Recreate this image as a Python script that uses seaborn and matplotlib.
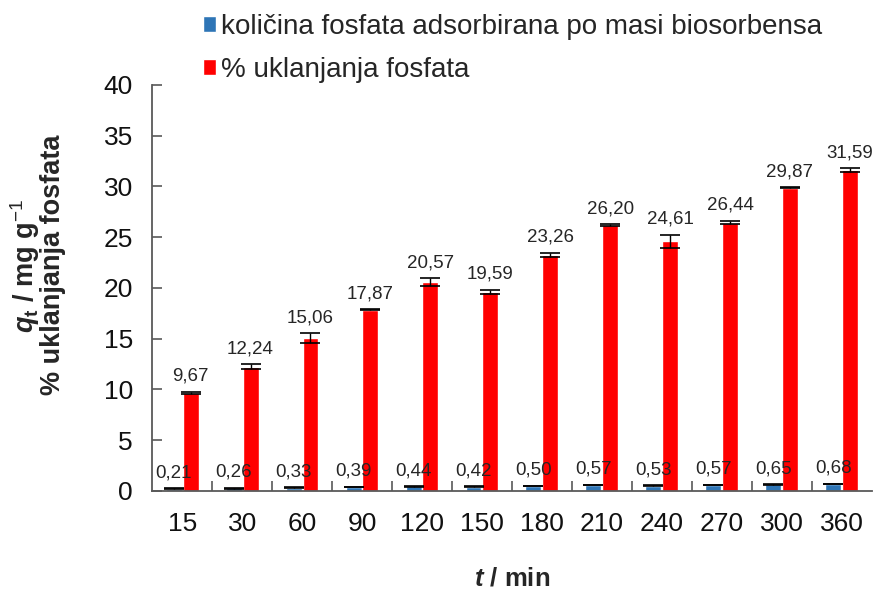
import numpy as np
import pandas as pd
import matplotlib.pyplot as plt
import seaborn as sns

# Podaci očitani s grafa
vrijeme = ['15', '30', '60', '90', '120', '150', '180', '210', '240', '270', '300', '360']
qt = [0.21, 0.26, 0.33, 0.39, 0.44, 0.42, 0.50, 0.57, 0.53, 0.57, 0.65, 0.68]
qt_err = [0.03, 0.03, 0.03, 0.03, 0.03, 0.03, 0.03, 0.03, 0.03, 0.03, 0.03, 0.03]
uklanjanje = [9.67, 12.24, 15.06, 17.87, 20.57, 19.59, 23.26, 26.20, 24.61, 26.44, 29.87, 31.59]
uklanjanje_err = [0.08, 0.25, 0.45, 0.05, 0.40, 0.22, 0.22, 0.05, 0.65, 0.18, 0.05, 0.20]

serije = ['količina fosfata adsorbirana po masi biosorbensa', '% uklanjanja fosfata']
boje = ['#2E75B6', '#FF0000']

df = pd.DataFrame({
    't': vrijeme * 2,
    'vrijednost': qt + uklanjanje,
    'serija': [serije[0]] * len(vrijeme) + [serije[1]] * len(vrijeme),
})

sns.set_style('white')
plt.rcParams['font.family'] = ['Liberation Sans', 'DejaVu Sans']
plt.rcParams['mathtext.fontset'] = 'custom'
plt.rcParams['mathtext.rm'] = 'Liberation Sans'
plt.rcParams['mathtext.it'] = 'Liberation Sans:italic'
plt.rcParams['mathtext.bf'] = 'Liberation Sans:bold'
plt.rcParams['mathtext.bfit'] = 'Liberation Sans:bold:italic'

fig = plt.figure(figsize=(8.75, 5.9), dpi=100)
ax = fig.add_axes([0.174, 0.168, 0.822, 0.688])

sns.barplot(data=df, x='t', y='vrijednost', hue='serija', order=vrijeme,
            hue_order=serije, palette=boje, width=0.56, gap=0.05,
            saturation=1, errorbar=None, ax=ax)

# Trake pogreške i oznake vrijednosti
for cont, vals, errs in zip(ax.containers, [qt, uklanjanje], [qt_err, uklanjanje_err]):
    xs = [b.get_x() + b.get_width() / 2 for b in cont]
    ax.errorbar(xs, vals, yerr=errs, fmt='none', ecolor='black',
                elinewidth=1.0, capsize=7, capthick=1.2, zorder=5)
    for x, v, e in zip(xs, vals, errs):
        ax.annotate(f'{v:.2f}'.replace('.', ','), (x, v + e), xytext=(0, 5),
                    textcoords='offset points', ha='center', va='bottom',
                    fontsize=13.5, color='#262626')

ax.set_ylim(0, 40)
ax.set_yticks(range(0, 41, 5))
ax.set_xlim(-0.5, len(vrijeme) - 0.5)
ax.set_xticks(np.arange(len(vrijeme)))
ax.set_xticklabels(vrijeme)
ax.set_xticks(np.arange(len(vrijeme) - 1) + 0.5, minor=True)
ax.tick_params(axis='x', which='major', length=0, labelsize=19, pad=15, labelcolor='#111111')
ax.tick_params(axis='x', which='minor', direction='in', length=7, width=1.2, color='#595959', bottom=True)
ax.tick_params(axis='y', direction='in', length=7, width=1.2, color='#595959', labelsize=19,
               pad=14, left=True, labelcolor='#111111')

for s in ['top', 'right']:
    ax.spines[s].set_visible(False)
for s in ['left', 'bottom']:
    ax.spines[s].set_color('#595959')
    ax.spines[s].set_linewidth(1.3)

ax.set_xlabel('$\\mathbfit{t}$ / min', fontsize=18.5, fontweight='bold', labelpad=22)
ax.set_ylabel('')

# Naslov osi y u dva retka
fig.text(25 / 875, 1 - 266 / 590, '$\\mathbfit{q}_\\mathbf{t}$ / mg g$^{\\mathrm{-1}}$',
         rotation=90, ha='center', va='center', fontsize=19.5, fontweight='bold')
fig.text(53 / 875, 1 - 265 / 590, '% uklanjanja fosfata',
         rotation=90, ha='center', va='center', fontsize=19.5, fontweight='bold')

leg = ax.legend(loc='upper left', bbox_to_anchor=(203 / 875, 1 - 14 / 590),
                bbox_transform=fig.transFigure, frameon=False,
                fontsize=20, handlelength=0.45, handleheight=0.5, handletextpad=0.2,
                labelspacing=0.62, borderaxespad=0, borderpad=0)

fig.savefig('out.png', dpi=100)
